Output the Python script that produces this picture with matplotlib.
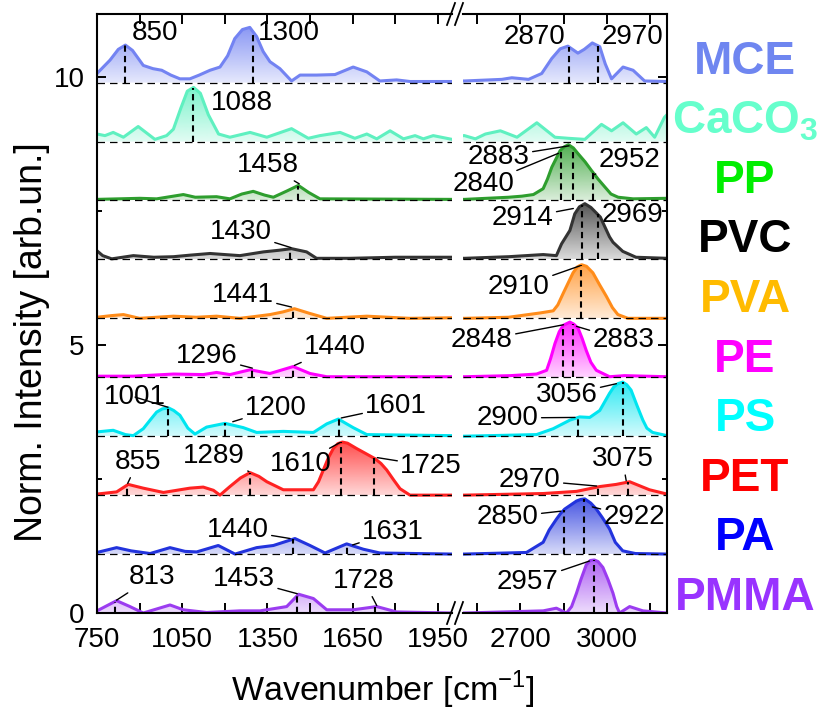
import matplotlib.pyplot as plt
import numpy as np
from matplotlib.colors import to_rgb
from matplotlib.lines import Line2D
from matplotlib.patches import Polygon

plt.rcParams['font.family'] = ['Liberation Sans', 'DejaVu Sans']
plt.rcParams['mathtext.fontset'] = 'custom'
plt.rcParams['mathtext.rm'] = 'Liberation Sans'
plt.rcParams['mathtext.bf'] = 'Liberation Sans:bold'

# spectra: wavenumber [cm-1] and normalised intensity
mce_wn = [750, 796, 825, 850, 875, 913, 947, 978, 1010, 1042, 1077, 1110, 1148, 1183, 1210, 1235, 1262, 1288, 1312,
          1335, 1359, 1394, 1435, 1465, 1523, 1588, 1620, 1652, 1700, 1746, 1805, 1852, 2000,
          2505, 2635, 2670, 2728, 2774, 2809, 2838, 2865, 2900, 2922, 2950, 2976, 2995, 3017, 3057, 3092, 3132, 3210]
mce_int = [0.17, 0.42, 0.62, 0.70, 0.60, 0.32, 0.26, 0.23, 0.14, 0.07, 0.07, 0.14, 0.23, 0.29, 0.50, 0.82, 0.99, 1.03, 0.86,
           0.58, 0.39, 0.26, 0.03, 0.14, 0.14, 0.15, 0.22, 0.29, 0.20, 0.03, 0.05, 0.02, 0.02,
           0.03, 0.06, 0.09, 0.06, 0.17, 0.45, 0.63, 0.68, 0.55, 0.62, 0.74, 0.67, 0.35, 0.07, 0.29, 0.23, 0.03, 0.02]

caco3_wn = [750, 778, 807, 843, 895, 954, 995, 1019, 1045, 1068, 1090, 1114, 1142, 1178, 1218, 1289, 1348, 1435, 1494,
            1535, 1606, 1658, 1700, 1735, 1782, 1829, 1870, 1899, 1934, 2000,
            2505, 2543, 2578, 2630, 2688, 2757, 2820, 2867, 2924, 2982, 3017, 3057, 3103, 3138, 3167, 3201, 3210]
caco3_int = [0.14, 0.11, 0.17, 0.08, 0.28, 0.04, 0.11, 0.23, 0.62, 0.94, 1.01, 0.90, 0.50, 0.14, 0.08, 0.17, 0.08, 0.24, 0.06,
             0.11, 0.17, 0.06, 0.14, 0.05, 0.20, 0.05, 0.11, 0.05, 0.11, 0.04,
             0.11, 0.05, 0.14, 0.20, 0.08, 0.35, 0.08, 0.06, 0.04, 0.32, 0.20, 0.35, 0.14, 0.26, 0.08, 0.45, 0.50]

pp_wn = [750, 901, 960, 1054, 1096, 1171, 1218, 1260, 1300, 1340, 1371, 1420, 1459, 1495, 1535, 2000,
         2505, 2659, 2705, 2745, 2779, 2794, 2809, 2838, 2852, 2867, 2884, 2901, 2925, 2947, 2970, 2994, 3015, 3040,
         3092, 3210]
pp_int = [0.02, 0.04, 0.03, 0.11, 0.06, 0.07, 0.03, 0.12, 0.17, 0.10, 0.06, 0.18, 0.28, 0.15, 0.03, 0.02,
          0.02, 0.06, 0.08, 0.11, 0.22, 0.40, 0.62, 0.93, 1.00, 1.04, 0.98, 0.87, 0.72, 0.56, 0.40, 0.25, 0.12, 0.06,
          0.03, 0.04]

pvc_wn = [750, 770, 802, 878, 950, 1019, 1080, 1148, 1200, 1253, 1336, 1390, 1435, 1488, 1523, 1640, 1800, 2000,
          2505, 2659, 2779, 2825, 2843, 2872, 2889, 2905, 2924, 2945, 2978, 3010, 3022, 3056, 3102, 3210]
pvc_int = [0.16, 0.07, 0.01, 0.07, 0.04, 0.05, 0.08, 0.11, 0.09, 0.07, 0.14, 0.17, 0.20, 0.14, 0.02, 0.02, 0.04, 0.04,
           0.02, 0.05, 0.09, 0.07, 0.29, 0.54, 0.85, 0.98, 1.04, 0.97, 0.79, 0.42, 0.32, 0.15, 0.04, 0.02]

pva_wn = [750, 800, 843, 900, 1019, 1100, 1171, 1253, 1300, 1359, 1405, 1445, 1500, 1559, 1700, 1850, 2000,
          2505, 2659, 2768, 2814, 2830, 2849, 2883, 2898, 2913, 2930, 2952, 2975, 2999, 3020, 3039, 3074, 3210]
pva_int = [0.02, 0.05, 0.07, 0.00, 0.04, 0.02, 0.04, 0.00, 0.03, 0.07, 0.12, 0.18, 0.09, 0.00, 0.04, 0.00, 0.01,
           0.00, 0.02, 0.10, 0.14, 0.25, 0.47, 0.85, 0.96, 1.00, 0.97, 0.85, 0.63, 0.41, 0.20, 0.07, 0.00, 0.00]

pe_wn = [750, 878, 1019, 1124, 1171, 1218, 1289, 1359, 1441, 1500, 1559, 2000,
         2505, 2664, 2756, 2791, 2805, 2820, 2835, 2849, 2872, 2886, 2901, 2915, 2929, 2945, 2964, 3010, 3062, 3210]
pe_int = [0.02, 0.02, 0.06, 0.05, 0.09, 0.05, 0.14, 0.07, 0.20, 0.07, 0.01, 0.01,
          0.01, 0.03, 0.06, 0.13, 0.35, 0.63, 0.85, 0.97, 1.03, 0.99, 0.91, 0.72, 0.50, 0.28, 0.13, 0.01, 0.03, 0.01]

ps_wn = [750, 807, 850, 878, 913, 940, 960, 980, 1001, 1020, 1042, 1070, 1095, 1136, 1201, 1265, 1312, 1406, 1512, 1559,
         1600, 1652, 1700, 2000,
         2505, 2756, 2814, 2872, 2906, 2941, 2976, 3010, 3025, 3039, 3056, 3070, 3085, 3105, 3126, 3140, 3160, 3210]
ps_int = [0.08, 0.11, 0.03, 0.01, 0.14, 0.32, 0.45, 0.51, 0.53, 0.48, 0.39, 0.15, 0.04, 0.17, 0.24, 0.16, 0.07, 0.09, 0.07, 0.23,
          0.32, 0.16, 0.03, 0.01,
          0.00, 0.03, 0.14, 0.30, 0.36, 0.35, 0.48, 0.80, 0.92, 0.98, 1.01, 0.96, 0.86, 0.58, 0.30, 0.15, 0.07, 0.01]

pet_wn = [750, 819, 860, 913, 984, 1077, 1124, 1160, 1183, 1218, 1255, 1289, 1320, 1348, 1406, 1512, 1530, 1547, 1565, 1582,
          1598, 1614, 1632, 1664, 1695, 1729, 1750, 1770, 1795, 1817, 1852, 2000,
          2505, 2779, 2895, 2976, 3033, 3080, 3149, 3210]
pet_int = [0.02, 0.06, 0.20, 0.13, 0.05, 0.13, 0.15, 0.09, 0.00, 0.16, 0.32, 0.42, 0.35, 0.25, 0.10, 0.10, 0.25, 0.47, 0.70, 0.87,
           0.96, 0.99, 0.97, 0.87, 0.78, 0.68, 0.59, 0.47, 0.28, 0.12, 0.00, 0.00,
           0.00, 0.03, 0.07, 0.16, 0.20, 0.25, 0.10, 0.02]

pa_wn = [750, 819, 870, 937, 1007, 1060, 1101, 1177, 1236, 1312, 1371, 1447, 1500, 1553, 1629, 1688, 1746, 2000,
         2505, 2721, 2779, 2800, 2825, 2840, 2854, 2895, 2910, 2924, 2945, 2964, 2985, 3010, 3030, 3056, 3100, 3210]
pa_int = [0.03, 0.12, 0.06, 0.01, 0.12, 0.05, 0.04, 0.16, 0.00, 0.12, 0.16, 0.29, 0.16, 0.02, 0.19, 0.09, 0.02, 0.00,
          0.00, 0.03, 0.22, 0.45, 0.65, 0.76, 0.84, 0.99, 1.02, 1.03, 0.95, 0.84, 0.68, 0.47, 0.22, 0.06, 0.01, 0.00]

pmma_wn = [750, 819, 866, 913, 1007, 1054, 1136, 1253, 1324, 1418, 1460, 1512, 1559, 1652, 1735, 1805, 2000,
           2505, 2779, 2825, 2860, 2878, 2895, 2910, 2929, 2943, 2957, 2970, 2987, 3005, 3022, 3035, 3045, 3080, 3126, 3210]
pmma_int = [0.04, 0.23, 0.12, 0.00, 0.15, 0.06, 0.01, 0.04, 0.04, 0.12, 0.35, 0.27, 0.06, 0.06, 0.12, 0.02, 0.00,
            0.00, 0.04, 0.09, 0.00, 0.12, 0.37, 0.62, 0.90, 0.98, 0.99, 0.96, 0.85, 0.62, 0.37, 0.12, 0.00, 0.12, 0.04, 0.00]

# from bottom to top
names = ['PMMA', 'PA', 'PET', 'PS', 'PE', 'PVA', 'PVC', 'PP', 'CaCO$_\\mathbf{3}$', 'MCE']
spectra = [(pmma_wn, pmma_int), (pa_wn, pa_int), (pet_wn, pet_int), (ps_wn, ps_int), (pe_wn, pe_int),
           (pva_wn, pva_int), (pvc_wn, pvc_int), (pp_wn, pp_int), (caco3_wn, caco3_int), (mce_wn, mce_int)]
line_colors = ['#9b3cf0', '#2233dd', '#ff2222', '#00e5f0', '#ff00ff', '#ff8c1a', '#333333', '#2e9e2e', '#5ff0c0', '#7383f2']
name_colors = ['#9933ff', '#0000ff', '#ff0000', '#00ffff', '#ff00ff', '#ffbb00', '#000000', '#00ee00', '#66ffcc', '#6f86f0']
step = 1.1

# peak labels: (peak, text x, text y above baseline, leader target (x, y) or None)
peak_notes = [
    [(813, 944, 0.67, (819, 0.24)), (1453, 1268, 0.63, (1455, 0.36)), (1728, 1690, 0.60, (1735, 0.14)),
     (2957, 2726, 0.58, (2940, 0.97))],
    [(1440, 1246, 0.45, (1430, 0.29)), (1631, 1792, 0.41, (1650, 0.17)), (2850, 2656, 0.69, (2840, 0.80)),
     (2922, 3096, 0.69, (2950, 0.88))],
    [(855, 894, 0.62, (858, 0.22)), (1289, 1162, 0.73, (1285, 0.44)), (1610, 1468, 0.58, (1605, 0.98)),
     (1725, 1926, 0.54, (1737, 0.70)), (2970, 2733, 0.28, (2965, 0.17)), (3075, 3055, 0.67, (3068, 0.27))],
    [(1001, 884, 0.73, (1000, 0.54)), (1200, 1380, 0.52, (1228, 0.27)), (1601, 1803, 0.56, (1610, 0.34)),
     (3056, 2861, 0.77, (3034, 0.98)), (2900, 2656, 0.34, (2890, 0.35))],
    [(1296, 1137, 0.39, (1297, 0.17)), (1440, 1588, 0.56, (1445, 0.22)), (2848, 2566, 0.69, (2850, 0.98)),
     (2883, 3058, 0.69, (2895, 0.95))],
    [(1441, 1264, 0.43, (1435, 0.21)), (2910, 2695, 0.58, (2907, 0.98))],
    [(1430, 1257, 0.51, (1433, 0.22)), (2914, 2708, 0.77, (2884, 0.95)), (2969, 3090, 0.83, None)],
    [(1458, 1352, 0.66, (1462, 0.31)), (2883, 2625, 0.81, (2869, 1.02)), (2840, 2570, 0.30, (2832, 0.88)),
     (2952, 3079, 0.75, (2951, 0.47))],
    [(1088, 1261, 0.71, None)],
    [(850, 955, 0.92, None), (1300, 1426, 0.92, None), (2870, 2750, 0.85, None), (2970, 3090, 0.85, None)],
]

W, H = 831, 712
fig = plt.figure(figsize=(W / 100, H / 100), dpi=100)


def fbox(x0, y0, x1, y1):
    return [x0 / W, 1 - y1 / H, (x1 - x0) / W, (y1 - y0) / H]


ax1 = fig.add_axes(fbox(97, 14, 452, 613))
ax2 = fig.add_axes(fbox(463, 14, 667, 613))


def grad_fill(ax, x, y, base, color):
    verts = np.column_stack([np.r_[x[0], x, x[-1]], np.r_[base, y, base]])
    poly = Polygon(verts, closed=True, facecolor='none', edgecolor='none', transform=ax.transData)
    ax.add_patch(poly)
    rgba = np.zeros((100, 1, 4))
    rgba[..., :3] = to_rgb(color)
    rgba[:, 0, 3] = np.linspace(0.18, 0.85, 100)
    im = ax.imshow(rgba, extent=[x[0], x[-1], base, base + 1.05], origin='lower', aspect='auto',
                   interpolation='bilinear', zorder=1)
    im.set_clip_path(poly)


for ax in (ax1, ax2):
    for i, (wn, inten) in enumerate(spectra):
        base = i * step
        x = np.array(wn, dtype=float)
        y = base + np.array(inten)
        grad_fill(ax, x, y, base, line_colors[i])
        ax.plot(x, y, color=line_colors[i], lw=2.2, zorder=2, solid_joinstyle='round')
        ax.axhline(base, color='k', lw=0.9, ls=(0, (6, 4)), zorder=3)

for i, notes in enumerate(peak_notes):
    base = i * step
    wn, inten = spectra[i]
    for peak, tx, ty, target in notes:
        ax = ax1 if peak < 2250 else ax2
        top = base + np.interp(peak, wn, inten)
        ax.plot([peak, peak], [base, top], color='k', lw=1.5, ls=(0, (3, 2)), zorder=4)
        if target is None:
            ax.text(tx, base + ty, str(peak), fontsize=20, ha='center', va='center', zorder=5)
        else:
            ax.annotate(str(peak), xy=(target[0], base + target[1]), xytext=(tx, base + ty),
                        fontsize=20, ha='center', va='center', zorder=5, annotation_clip=False,
                        arrowprops=dict(arrowstyle='-', color='k', lw=1.0, shrinkA=0, shrinkB=0))

ax1.set_xlim(750, 2000)
ax2.set_xlim(2500, 3210)
for ax in (ax1, ax2):
    ax.set_ylim(0, 11.18)
    ax.set_yticks([0, 5, 10])
    ax.set_yticks([2.5, 7.5], minor=True)
    for sp in ax.spines.values():
        sp.set_linewidth(1.5)
    ax.tick_params(axis='x', which='both', direction='in', top=True, length=7, width=1.4,
                   labelsize=20, pad=10)
    ax.tick_params(axis='y', which='major', direction='in', length=6.5, width=1.4, labelsize=20, pad=9)
    ax.tick_params(axis='y', which='minor', direction='in', length=3.6, width=1.4)

ax1.set_xticks([750, 1050, 1350, 1650, 1950])
ax1.set_xticks([900, 1200, 1500, 1800], minor=True)
ax2.set_xticks([2700, 3000])
ax2.set_xticks([2550, 2850, 3150], minor=True)

ax1.spines['right'].set_visible(False)
ax1.tick_params(axis='y', which='both', right=False)
ax2.spines['left'].set_visible(False)
ax2.tick_params(axis='y', which='both', left=False, labelleft=False, right=True)

# axis break marks
for yb in (14, 613):
    for xb in (451, 459):
        fig.add_artist(Line2D([(xb - 4) / W, (xb + 4) / W], [1 - (yb + 11) / H, 1 - (yb - 11) / H],
                              color='k', lw=1.3))

fig.text(32 / W, 1 - 342 / H, 'Norm. Intensity [arb.un.]', rotation=90, fontsize=27, ha='center', va='center')
fig.text(383 / W, 1 - 690 / H, 'Wavenumber [cm$^{-1}$]', fontsize=24.5, ha='center', va='center')

for i, name in enumerate(names):
    fig.text(745 / W, 1 - (598 - 59.6 * i) / H, name, color=name_colors[i], fontsize=33,
             fontweight='bold', ha='center', va='center')

fig.savefig('out.png', dpi=100)
